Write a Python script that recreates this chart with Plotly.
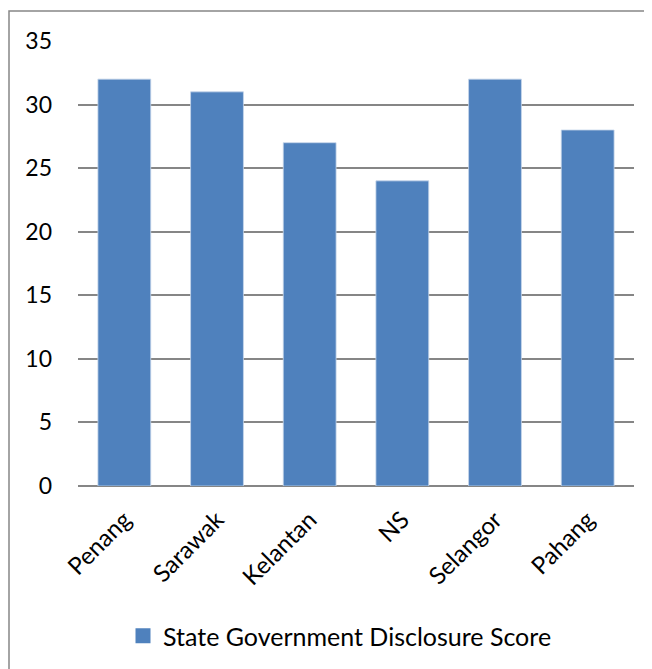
import plotly.graph_objects as go

categories = ["Penang", "Sarawak", "Kelantan", "NS", "Selangor", "Pahang"]
scores = [32, 31, 27, 24, 32, 28]
series_name = "State Government Disclosure Score"
y_ticks = [0, 5, 10, 15, 20, 25, 30, 35]

OFF = 8  # page body margin
W, H = 652 - OFF, 669 - OFF
L, R, T, B = 78 - OFF, 18, 41 - OFF, 182
pw, ph = W - L - R, H - T - B

def px_x(x):
    return (x - OFF - L) / pw

def px_y(y):
    return (H - B - (y - OFF)) / ph

FONT = "Lato"
grid = "#868686"
bar_color = "#4F81BD"

fig = go.Figure()
fig.add_trace(go.Bar(
    x=categories, y=scores, name=series_name, showlegend=False,
    marker=dict(color=bar_color, line=dict(color="#C5D5EA", width=0.8)),
))
# legend entry with a larger square swatch
fig.add_trace(go.Scatter(
    x=[None], y=[None], mode="markers", name=series_name,
    marker=dict(symbol="square", size=15, color=bar_color),
))

fig.update_layout(
    width=W, height=H,
    margin=dict(l=L, r=R, t=T, b=B),
    paper_bgcolor="white", plot_bgcolor="white",
    bargap=0.43,
    showlegend=True,
    font=dict(family=FONT, size=23, color="black"),
    legend=dict(orientation="h", x=px_x(340), xanchor="center", y=px_y(636), yanchor="middle",
                font=dict(family=FONT, size=25), itemwidth=30),
    xaxis=dict(tickangle=-45, showgrid=False, showline=False, ticks="",
               ticklabelstandoff=14, tickfont=dict(family=FONT, size=24)),
    yaxis=dict(range=[0, 35], tickvals=y_ticks, showgrid=True, gridcolor=grid, gridwidth=1.5,
               zeroline=True, zerolinecolor=grid, zerolinewidth=1.5, showline=False,
               ticks="", ticklabelstandoff=25, tickfont=dict(family=FONT, size=23)),
    shapes=[dict(type="rect", xref="paper", yref="paper",
                 x0=px_x(9), x1=px_x(700), y0=px_y(720), y1=px_y(11),
                 line=dict(color="#868686", width=1.5), fillcolor="rgba(0,0,0,0)", layer="below")],
)

fig.write_html("out.html")
